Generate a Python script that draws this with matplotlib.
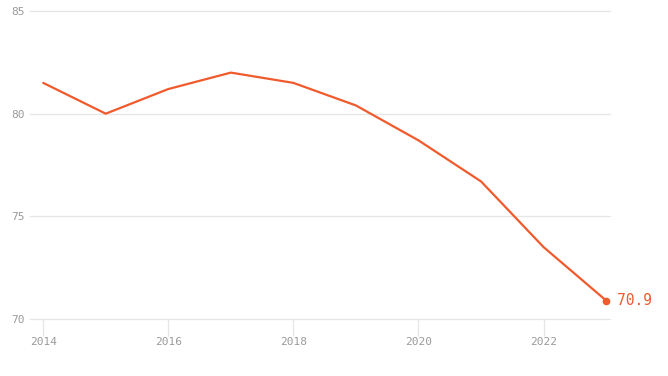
import matplotlib
matplotlib.use("Agg")
import matplotlib.pyplot as plt

years = [2014, 2015, 2016, 2017, 2018, 2019, 2020, 2021, 2022, 2023]
values = [81.5, 80.0, 81.2, 82.0, 81.5, 80.4, 78.7, 76.7, 73.5, 70.9]
y_ticks = [70, 75, 80, 85]
x_ticks = [2014, 2016, 2018, 2020, 2022]

LINE = "#f05a2c"
GRID = "#e6e6e6"
TXT = "#9a9a9a"
plt.rcParams["font.family"] = ["DejaVu Sans Mono"]

fig = plt.figure(figsize=(6.68, 3.76), dpi=100)
ax = fig.add_axes([0.045, 0.1516, 0.868, 0.8191])

ax.plot(years, values, color=LINE, lw=1.6, solid_capstyle="round", zorder=3)
ax.plot(years[-1], values[-1], "o", color=LINE, ms=4.5, zorder=4)
ax.annotate(f"{values[-1]:.1f}", (years[-1], values[-1]), xytext=(8, 0),
            textcoords="offset points", va="center", ha="left",
            color=LINE, fontsize=10.5, annotation_clip=False)

ax.set_xlim(2013.79, 2023.06)
ax.set_ylim(70, 85)
ax.set_yticks(y_ticks)
ax.set_xticks(x_ticks)
ax.grid(True, axis="y", color=GRID, lw=0.9)
for gl in ax.get_ygridlines():
    gl.set_clip_on(False)
ax.set_axisbelow(True)
for s in ax.spines.values():
    s.set_visible(False)
ax.tick_params(axis="y", length=0, pad=4, labelsize=8, labelcolor=TXT)
ax.tick_params(axis="x", length=12, width=0.9, color=GRID, pad=1,
               labelsize=8, labelcolor=TXT)

fig.savefig("out.png", dpi=100)
